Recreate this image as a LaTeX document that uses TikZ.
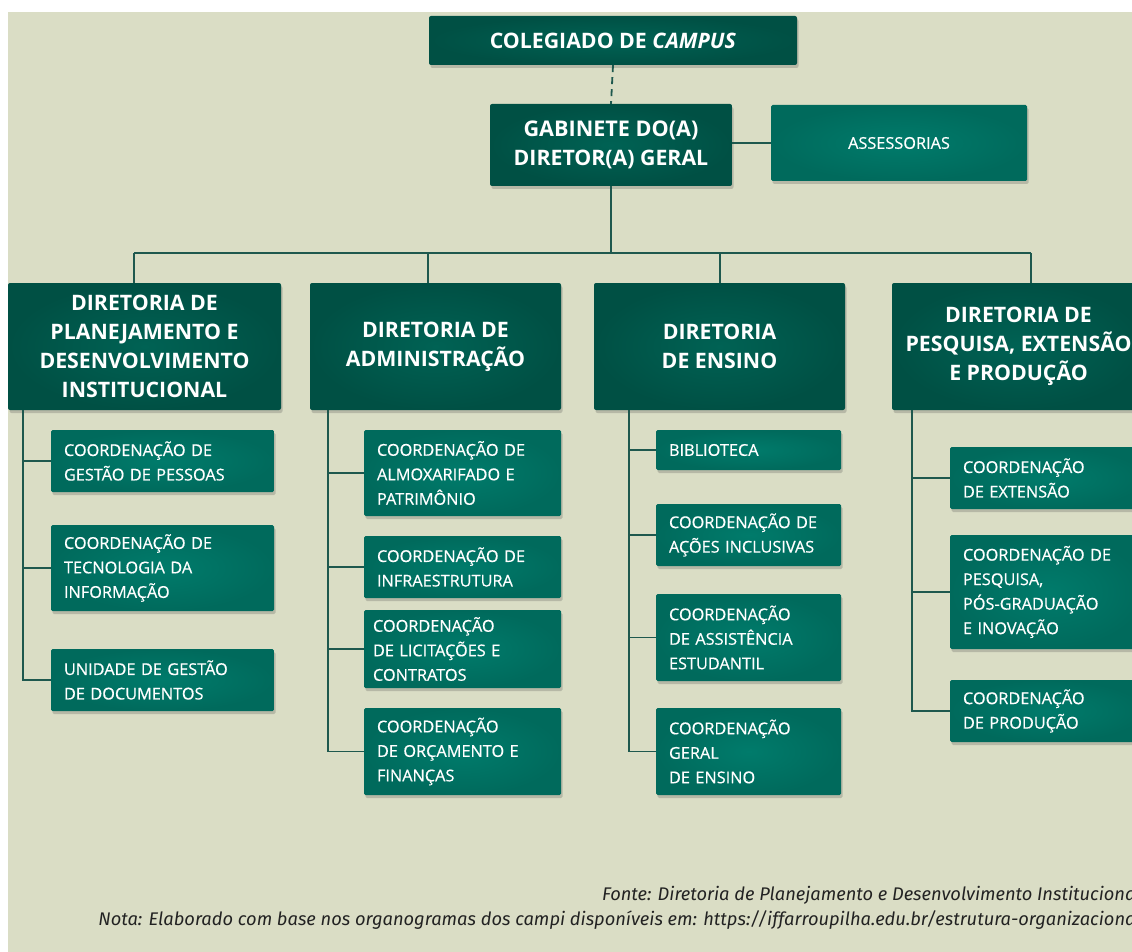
\documentclass[tikz,border=0pt]{standalone}
\usepackage{fontspec}
\setmainfont{Open Sans}
\newfontfamily\footfont{Fira Sans}
\newfontfamily\subfont[FakeBold=0.5]{Open Sans}
\usetikzlibrary{shadows}
\definecolor{bg}{RGB}{218,221,197}
\definecolor{dirin}{RGB}{0,98,84}
\definecolor{dirout}{RGB}{0,80,68}
\definecolor{subin}{RGB}{0,123,107}
\definecolor{subout}{RGB}{0,106,92}
\definecolor{linec}{RGB}{30,88,78}
\definecolor{foot}{RGB}{34,34,34}
\tikzset{
  shad/.style={drop shadow={shadow xshift=1.5pt, shadow yshift=-3pt, opacity=0.25, fill=black!70}},
  dirbox/.style={rounded corners=2pt, inner color=dirin, outer color=dirout, shad,
    text=white, font=\bfseries\fontsize{21.3}{29}\selectfont, align=center, inner sep=0pt},
  subbox/.style={rounded corners=1.5pt, inner color=subin, outer color=subout, shad,
    text=white, font=\subfont\fontsize{16.3}{24.5}\selectfont, align=left, inner sep=0pt},
  conn/.style={draw=linec, line width=1.4pt},
}
\newcommand\dirnode[6]{%
  \pgfmathsetmacro\bw{#4-#2}\pgfmathsetmacro\bh{#5-#3}%
  \node[dirbox, minimum width=\bw pt, minimum height=\bh pt] (#1) at ({(#2+#4)/2},{(#3+#5)/2}) {#6};}
\newcommand\subnode[7]{%
  \pgfmathsetmacro\bw{#4-#2}\pgfmathsetmacro\bh{#5-#3}\pgfmathsetmacro\tw{#4-#2-2*#6}%
  \node[subbox, minimum width=\bw pt, minimum height=\bh pt, text width=\tw pt] (#1) at ({(#2+#4)/2},{(#3+#5)/2}) {#7};}
\begin{document}
\begin{tikzpicture}[x=1pt,y=-1pt]
\clip (0,0) rectangle (1132,952);
\fill[white] (0,0) rectangle (1132,952);
\fill[bg] (8,12) rectangle (1132,952);

% top
\dirnode{col}{429}{16}{797}{65}{\fontsize{21.3}{24}\selectfont COLEGIADO DE \textit{CAMPUS}}
\dirnode{gab}{490}{104}{732}{186}{\fontsize{21.6}{29}\selectfont GABINETE DO(A)\\DIRETOR(A) GERAL}
\node[subbox, align=center, minimum width=256pt, minimum height=76pt] (ass) at (899,143) {ASSESSORIAS};

\draw[conn, line width=1.8pt, dash pattern=on 7pt off 5pt] (col.south) -- (gab.north);
\draw[conn] (gab.east |- ass.west) -- (ass.west);

% directorates
\dirnode{d1}{8}{283}{281}{410}{DIRETORIA DE\\PLANEJAMENTO E\\DESENVOLVIMENTO\\INSTITUCIONAL}
\dirnode{d2}{310}{283}{561}{410}{DIRETORIA DE\\ADMINISTRAÇÃO}
\dirnode{d3}{594}{283}{845}{410}{DIRETORIA\\DE ENSINO}
\dirnode{d4}{892}{283}{1145}{410}{DIRETORIA DE\\PESQUISA, EXTENSÃO\\E PRODUÇÃO}

\coordinate (b1) at (134,253);
\coordinate (b2) at (428,253);
\coordinate (b3) at (720,253);
\coordinate (b4) at (1031,253);
\draw[conn] (gab.south) -- (gab.south |- b1);
\draw[conn] (b1) -- (b4);
\draw[conn] (b1) -- (b1 |- d1.north);
\draw[conn] (b2) -- (b2 |- d2.north);
\draw[conn] (b3) -- (b3 |- d3.north);
\draw[conn] (b4) -- (b4 |- d4.north);

% column 1
\subnode{s11}{51}{430}{274}{492}{13}{COORDENAÇÃO DE\\GESTÃO DE PESSOAS}
\subnode{s12}{51}{525}{274}{611}{13}{COORDENAÇÃO DE\\TECNOLOGIA DA\\INFORMAÇÃO}
\subnode{s13}{51}{649}{274}{711}{13}{UNIDADE DE GESTÃO\\DE DOCUMENTOS}
\coordinate (p1) at (23,410);
\draw[conn] (p1) |- (s13.west);
\draw[conn] (s11.west) -- (s11.west -| p1);
\draw[conn] (s12.west) -- (s12.west -| p1);

% column 2
\subnode{s21}{364}{430}{561}{516}{13}{COORDENAÇÃO DE\\ALMOXARIFADO E\\PATRIMÔNIO}
\subnode{s22}{364}{536}{561}{598}{13}{COORDENAÇÃO DE\\INFRAESTRUTURA}
\subnode{s23}{364}{610}{561}{688}{9}{COORDENAÇÃO\\DE LICITAÇÕES E\\CONTRATOS}
\subnode{s24}{364}{708}{561}{795}{13}{COORDENAÇÃO\\DE ORÇAMENTO E\\FINANÇAS}
\coordinate (p2) at (328,410);
\draw[conn] (p2) |- (s24.west);
\draw[conn] (s21.west) -- (s21.west -| p2);
\draw[conn] (s22.west) -- (s22.west -| p2);
\draw[conn] (s23.west) -- (s23.west -| p2);

% column 3
\subnode{s31}{656}{430}{841}{470}{13}{BIBLIOTECA}
\subnode{s32}{656}{504}{841}{566}{13}{COORDENAÇÃO DE\\AÇÕES INCLUSIVAS}
\subnode{s33}{656}{594}{841}{681}{13}{COORDENAÇÃO\\DE ASSISTÊNCIA\\ESTUDANTIL}
\subnode{s34}{656}{708}{841}{795}{13}{COORDENAÇÃO\\GERAL\\DE ENSINO}
\coordinate (p3) at (629,410);
\draw[conn] (p3) |- (s34.west);
\draw[conn] (s31.west) -- (s31.west -| p3);
\draw[conn] (s32.west) -- (s32.west -| p3);
\draw[conn] (s33.west) -- (s33.west -| p3);

% column 4
\subnode{s41}{950}{447}{1145}{509}{13}{COORDENAÇÃO\\DE EXTENSÃO}
\subnode{s42}{950}{535}{1145}{649}{13}{COORDENAÇÃO DE\\PESQUISA,\\PÓS-GRADUAÇÃO\\E INOVAÇÃO}
\subnode{s43}{950}{680}{1145}{742}{13}{COORDENAÇÃO\\DE PRODUÇÃO}
\coordinate (p4) at (912,410);
\draw[conn] (p4) |- (s43.west);
\draw[conn] (s41.west) -- (s41.west -| p4);
\draw[conn] (s42.west) -- (s42.west -| p4);

% footer
\node[anchor=north east, align=right, inner sep=0pt, text=foot,
  font=\footfont\itshape\fontsize{18.3}{25}\selectfont] (foot) at (1141,886)
  {Fonte: Diretoria de Planejamento e Desenvolvimento Institucional\\
   Nota: Elaborado com base nos organogramas dos campi disponíveis em: https:/\kern-2pt/iffarroupilha.edu.br/estrutura-organizacional};
\end{tikzpicture}
\end{document}
